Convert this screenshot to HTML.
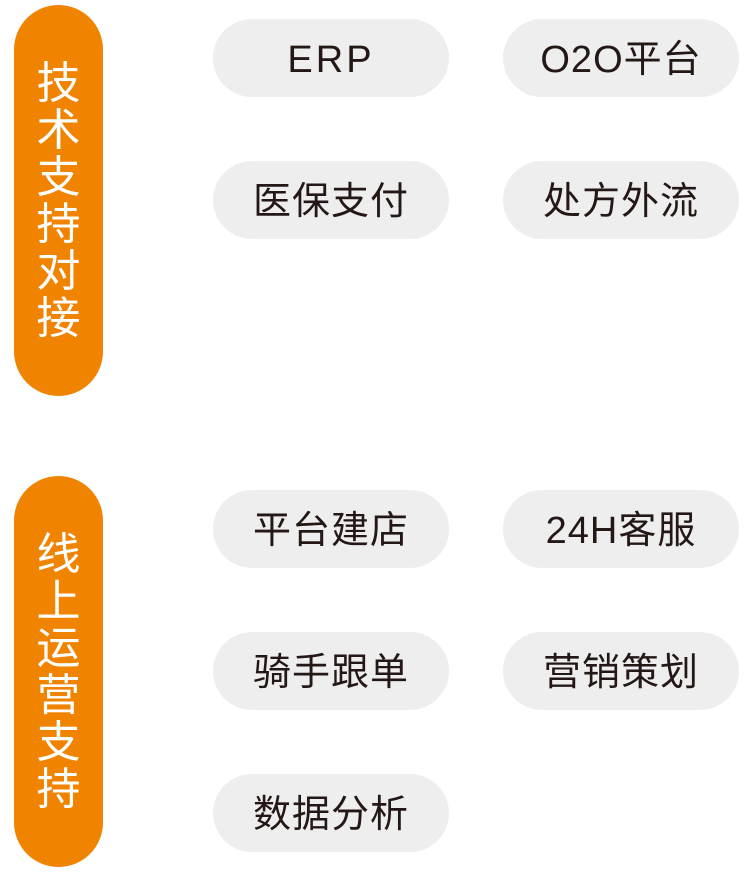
<!DOCTYPE html>
<html><head><meta charset="utf-8"><style>
body{margin:0;width:752px;height:877px;background:#fff;position:relative;overflow:hidden;font-family:"Liberation Sans","Noto Sans CJK SC",sans-serif}
.o{position:absolute;left:14px;width:89px;background:#F08300;border-radius:45px;color:#fff;font-size:44px;line-height:47px;text-align:center;display:flex;flex-direction:column;justify-content:center}
.g{position:absolute;width:236px;height:78px;background:#EEEEEE;border-radius:39px;color:#231815;font-size:38px;line-height:82px;text-align:center;letter-spacing:1px}
</style></head><body>
<div class="o" style="top:5px;height:391px">技<br>术<br>支<br>持<br>对<br>接</div>
<div class="o" style="top:476px;height:391px">线<br>上<br>运<br>营<br>支<br>持</div>
<div class="g" style="left:213px;top:19px;letter-spacing:3px">ERP</div>
<div class="g" style="left:503px;top:19px">O2O平台</div>
<div class="g" style="left:213px;top:161px">医保支付</div>
<div class="g" style="left:503px;top:161px">处方外流</div>
<div class="g" style="left:213px;top:490px">平台建店</div>
<div class="g" style="left:503px;top:490px">24H客服</div>
<div class="g" style="left:213px;top:632px">骑手跟单</div>
<div class="g" style="left:503px;top:632px">营销策划</div>
<div class="g" style="left:213px;top:774px">数据分析</div>
</body></html>
